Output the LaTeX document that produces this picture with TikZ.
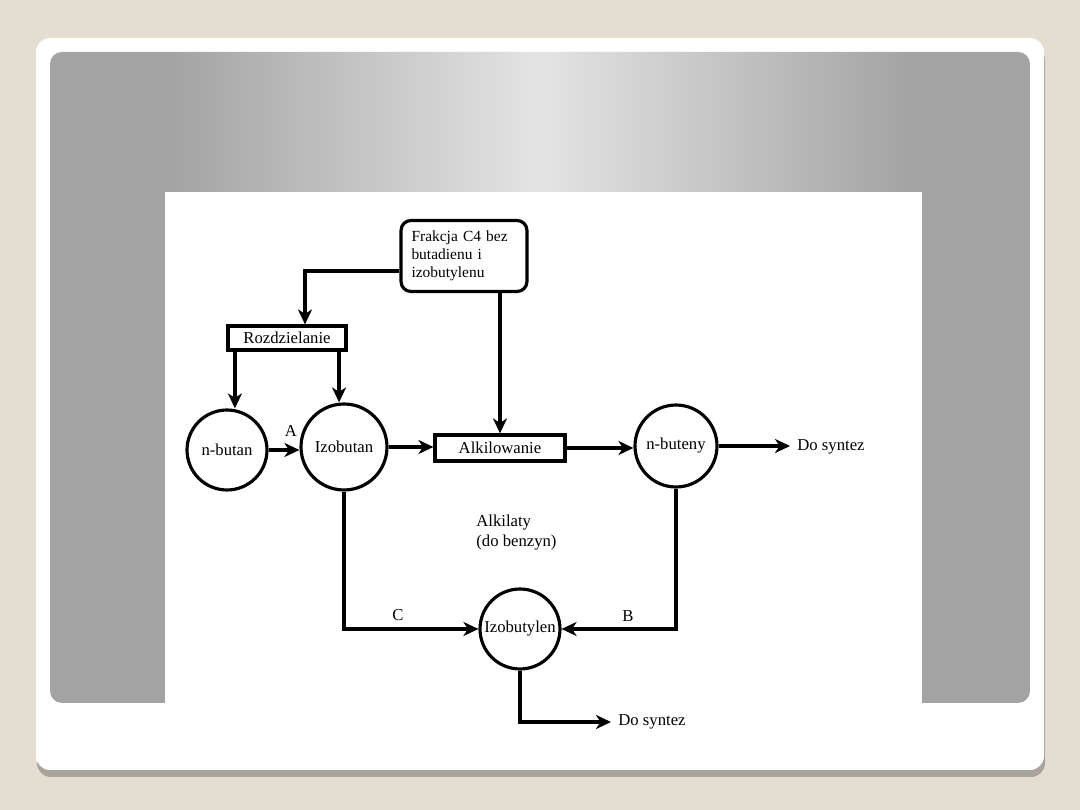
\documentclass[tikz,border=0pt]{standalone}
\usepackage{fontspec}
\setmainfont{Liberation Serif}
\usetikzlibrary{arrows.meta,positioning}
\definecolor{slidebg}{HTML}{E4DDD2}
\definecolor{cardshadow}{HTML}{A9A49B}
\definecolor{panelgray}{HTML}{A3A3A3}
\definecolor{panellight}{HTML}{E4E4E4}
\pgfdeclarehorizontalshading{panelshade}{100bp}{color(0bp)=(panelgray); color(31bp)=(panelgray); color(50bp)=(panellight); color(69bp)=(panelgray); color(100bp)=(panelgray)}

\begin{document}
\begin{tikzpicture}[
  x=0.02cm, y=-0.02cm,
  font=\fontsize{9.5}{11}\selectfont,
  circ/.style={draw, circle, line width=1.8pt, minimum size=1.6cm, inner sep=0pt},
  box/.style={draw, rectangle, line width=1.8pt, inner sep=0pt},
  outtext/.style={anchor=west, inner sep=0pt, inner xsep=4pt},
  arr/.style={line width=1.9pt, -{Stealth[length=3mm, width=2.8mm, inset=0.9mm]}}
]
% slide background
\fill[slidebg] (0,0) rectangle (1080,810);
\fill[cardshadow, rounded corners=0.28cm] (37,46) rectangle (1045,777);
\fill[white, rounded corners=0.28cm] (36,38) rectangle (1044,770);
\shade[shading=panelshade, rounded corners=0.24cm] (50,52) rectangle (1030,703);
\fill[white] (165,192) rectangle (922,770);

% nodes
\node[box, rounded corners=0.2cm, minimum width=2.52cm, minimum height=1.42cm, text width=2.1cm, align=left, font=\fontsize{8.8}{10.4}\selectfont] (frak) at (464,256) {Frakcja C4 bez\\butadienu i\\izobutylenu};
\node[box, minimum width=2.36cm, minimum height=0.48cm] (roz) at (287,338) {Rozdzielanie};
\node[circ] (nbut) at (227,450) {n-butan};
\node[circ, minimum size=1.72cm] (izob) at (344,447) {Izobutan};
\node[box, minimum width=2.6cm, minimum height=0.52cm] (alk) at (500,448) {Alkilowanie};
\node[circ, minimum size=1.64cm] (nbuty) at (676,446) {n-buteny};
\node[circ] (izoby) at (520,629) {Izobutylen};
\node[outtext] (out1) at (790,447) {Do syntez};
\node[outtext] (out2) at (611,722) {Do syntez};
\node[anchor=north west, align=left, inner sep=0pt] (alkil) at (476,515) {Alkilaty\\(do benzyn)};
\node (lA) at (291,431) {A};
\node (lC) at (398,615) {C};
\node (lB) at (628,616) {B};

% connectors
\coordinate (rl) at ([xshift=0.17cm]roz.south west);
\coordinate (rr) at ([xshift=-0.17cm]roz.south east);
\draw[arr] ([yshift=-0.3cm]frak.west) -| ([xshift=0.36cm]roz.north);
\draw[arr] (rl) -- (rl |- nbut.north);
\draw[arr] (rr) -- (rr |- izob.north);
\draw[arr] (nbut.east) -- (nbut.east -| izob.west);
\draw[arr] (izob.east) -- (izob.east -| alk.west);
\draw[arr] (frak.south -| alk.north) -- (alk.north);
\draw[arr] (alk.east) -- (alk.east -| nbuty.west);
\draw[arr] (nbuty.east) -- (nbuty.east -| out1.west);
\draw[arr] (izob.south) |- (izoby.west);
\draw[arr] (nbuty.south) |- (izoby.east);
\draw[arr] (izoby.south) |- (out2.west);
\end{tikzpicture}
\end{document}
